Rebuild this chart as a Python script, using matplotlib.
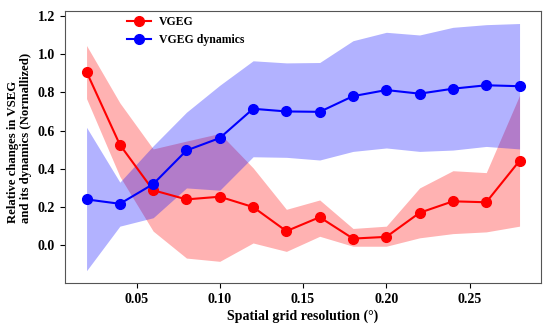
import numpy as np
import matplotlib
matplotlib.use("Agg")
import matplotlib.pyplot as plt

plt.rcParams['font.family'] = ['Liberation Serif', 'DejaVu Serif']
plt.rcParams['font.weight'] = 'bold'

# grid resolution (deg)
res = [0.02, 0.04, 0.06, 0.08, 0.10, 0.12, 0.14, 0.16, 0.18, 0.20, 0.22, 0.24, 0.26, 0.28]

vgeg = [0.907, 0.526, 0.288, 0.240, 0.254, 0.200, 0.074, 0.147, 0.035, 0.044, 0.170, 0.230, 0.225, 0.442]
vgeg_lo = [0.767, 0.360, 0.074, -0.067, -0.084, 0.012, -0.032, 0.047, -0.005, -0.005, 0.039, 0.061, 0.070, 0.100]
vgeg_hi = [1.045, 0.745, 0.504, 0.545, 0.585, 0.405, 0.188, 0.237, 0.088, 0.100, 0.300, 0.390, 0.380, 0.784]

dyn = [0.240, 0.217, 0.320, 0.496, 0.561, 0.714, 0.700, 0.698, 0.780, 0.812, 0.793, 0.819, 0.837, 0.832]
dyn_lo = [-0.133, 0.100, 0.144, 0.300, 0.288, 0.463, 0.460, 0.446, 0.491, 0.509, 0.491, 0.498, 0.517, 0.504]
dyn_hi = [0.617, 0.330, 0.520, 0.696, 0.837, 0.965, 0.954, 0.956, 1.070, 1.114, 1.100, 1.140, 1.154, 1.160]

fig = plt.figure(figsize=(5.5, 3.28), dpi=100)
ax = fig.add_axes([0.118, 0.137, 0.866, 0.829])

ax.fill_between(res, vgeg_lo, vgeg_hi, color='red', alpha=0.3, linewidth=0)
ax.fill_between(res, dyn_lo, dyn_hi, color='blue', alpha=0.3, linewidth=0)
ax.plot(res, vgeg, color='red', marker='o', markersize=7, linewidth=1.5, label='VGEG')
ax.plot(res, dyn, color='blue', marker='o', markersize=7, linewidth=1.5, label='VGEG dynamics')

ax.set_xticks([0.05, 0.10, 0.15, 0.20, 0.25])
ax.set_yticks([0.0, 0.2, 0.4, 0.6, 0.8, 1.0, 1.2])
ax.tick_params(labelsize=10)
ax.set_xlabel('Spatial grid resolution (°)', fontsize=10, fontweight='bold', labelpad=3)
ax.set_ylabel('Relative changes in VSEG\nand its dynamics (Normallized)', fontsize=9.2,
              fontweight='bold', linespacing=1.05, multialignment='left')
ax.yaxis.set_label_coords(-0.07, 0.535)
for s in ax.spines.values():
    s.set_color('#555555')

ax.legend(loc='upper left', bbox_to_anchor=(0.108, 1.02), frameon=False, fontsize=8.5,
          handlelength=2.0, handletextpad=0.7, labelspacing=0.45)

fig.savefig('out.png', dpi=100)
